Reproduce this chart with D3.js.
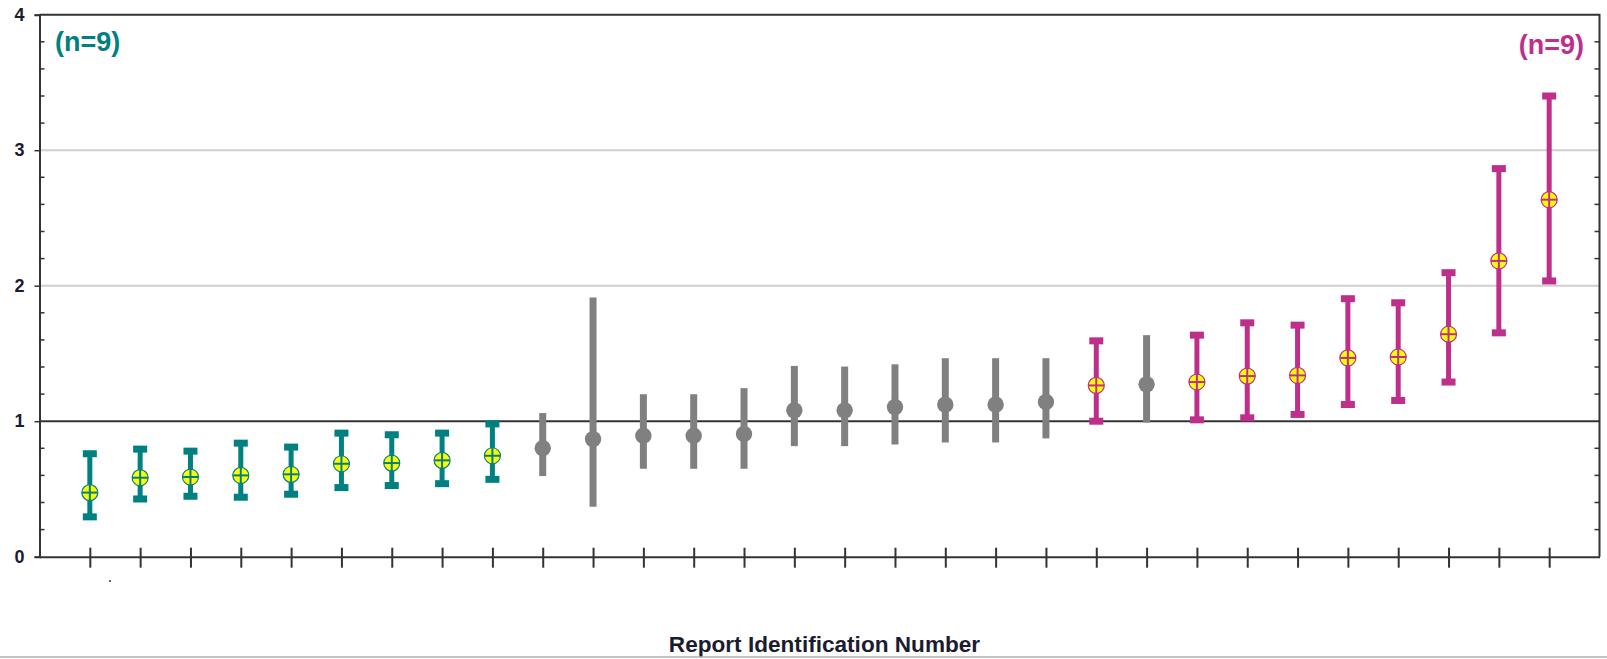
<!DOCTYPE html>
<html>
<head>
<meta charset="utf-8">
<script src="https://cdn.jsdelivr.net/npm/d3@7"></script>
<style>
  html, body { margin: 0; padding: 0; background: #fff; }
  svg { display: block; }
  text { font-family: "Liberation Sans", Arial, sans-serif; font-weight: bold; }
</style>
</head>
<body>
<svg id="chart" width="1607" height="659"></svg>
<script>
// Report identifiers (one per error bar, ordered by estimate)
const reports = d3.range(1, 31).map(String);

// Group of each report: "low" below, "mid" spanning 1, "high" above
const groups = [
  "low","low","low","low","low","low","low","low","low",
  "mid","mid","mid","mid","mid","mid","mid","mid","mid","mid","mid",
  "high","mid","high","high","high","high","high","high","high","high"
];

// Point estimates
const estimates = [
  0.473, 0.583, 0.588, 0.600, 0.608, 0.686, 0.691, 0.711, 0.745,
  0.800, 0.868, 0.893, 0.893, 0.905, 1.080, 1.080, 1.104, 1.122, 1.122, 1.142,
  1.264, 1.272, 1.289, 1.333, 1.338, 1.467, 1.474, 1.642, 2.183, 2.635
];

// Lower confidence limits
const lowerCI = [
  0.294, 0.426, 0.446, 0.439, 0.461, 0.510, 0.525, 0.539, 0.571,
  0.595, 0.368, 0.649, 0.649, 0.649, 0.816, 0.816, 0.828, 0.843, 0.843, 0.873,
  1.000, 0.990, 1.010, 1.025, 1.050, 1.123, 1.153, 1.289, 1.652, 2.035
];

// Upper confidence limits
const upperCI = [
  0.760, 0.794, 0.779, 0.838, 0.809, 0.912, 0.900, 0.912, 0.980,
  1.060, 1.913, 1.199, 1.199, 1.244, 1.408, 1.403, 1.420, 1.465, 1.465, 1.465,
  1.593, 1.635, 1.635, 1.726, 1.709, 1.904, 1.874, 2.096, 2.864, 3.400
];

const yTicks = [0, 1, 2, 3, 4];
const gridValues = [2, 3];
const refValue = 1;
const countLabels = [
  { group: "low", text: "(n=9)" },
  { group: "high", text: "(n=9)" }
];
const xTitle = "Report Identification Number";

const colors = { low: "#008080", mid: "#808080", high: "#BE2F8C" };

const data = reports.map((r, i) => ({
  id: r, group: groups[i], est: estimates[i], lo: lowerCI[i], hi: upperCI[i]
}));

const svg = d3.select("#chart");
const plotL = 39.5, plotR = 1599.5, plotT = 14.7, plotB = 556.7;

const x = d3.scalePoint().domain(reports).range([plotL, plotR]).padding(1);
const y = d3.scaleLinear().domain([0, 4]).range([plotB, plotT]);

// Horizontal gridlines
svg.append("g").selectAll("line").data(gridValues).join("line")
  .attr("x1", plotL).attr("x2", plotR)
  .attr("y1", d => y(d)).attr("y2", d => y(d))
  .attr("stroke", "#cfcfcf").attr("stroke-width", 2);

// Reference line at 1
svg.append("line")
  .attr("x1", plotL).attr("x2", plotR)
  .attr("y1", y(refValue)).attr("y2", y(refValue))
  .attr("stroke", "#333").attr("stroke-width", 2);

// Frame: top and right edges
svg.append("path")
  .attr("d", `M${plotL},${plotT}H${plotR}V${plotB}`)
  .attr("fill", "none").attr("stroke", "#333").attr("stroke-width", 2);

// Left axis with outward major ticks
const yAxis = d3.axisLeft(y).tickValues(yTicks).tickSize(5).tickPadding(10).tickFormat(d3.format("d"));
const gy = svg.append("g").attr("transform", `translate(${plotL},0)`).call(yAxis);
gy.select(".domain").attr("stroke", "#333").attr("stroke-width", 2);
gy.selectAll(".tick line").attr("stroke", "#333").attr("stroke-width", 1.5);
gy.selectAll(".tick text").attr("font-size", 18).attr("fill", "#1c1c30")
  .attr("font-family", "Liberation Sans, Arial, sans-serif").attr("font-weight", "bold");

// Minor ticks every 0.2, inward on both sides
const minor = d3.range(0, 4.0001, 0.2).filter(v => Math.abs(v - Math.round(v)) > 1e-6);
svg.append("g").selectAll("line").data(minor).join("line")
  .attr("x1", plotL).attr("x2", plotL + 5)
  .attr("y1", d => y(d)).attr("y2", d => y(d))
  .attr("stroke", "#333").attr("stroke-width", 1.5);
svg.append("g").selectAll("line").data(minor).join("line")
  .attr("x1", plotR - 5).attr("x2", plotR)
  .attr("y1", d => y(d)).attr("y2", d => y(d))
  .attr("stroke", "#333").attr("stroke-width", 1.5);

// Bottom axis with ticks crossing the line at each report
const xAxis = d3.axisBottom(x).tickSizeInner(11).tickSizeOuter(0).tickFormat("");
const gx = svg.append("g").attr("transform", `translate(0,${plotB})`).call(xAxis);
gx.select(".domain").attr("stroke", "#333").attr("stroke-width", 2);
gx.selectAll(".tick line").attr("y1", -9).attr("stroke", "#333").attr("stroke-width", 2);

// Error bars
const bars = svg.append("g").selectAll("g").data(data).join("g")
  .attr("transform", d => `translate(${x(d.id)},0)`);

bars.append("line")
  .attr("y1", d => y(d.lo)).attr("y2", d => y(d.hi))
  .attr("stroke", d => colors[d.group])
  .attr("stroke-width", d => d.group === "mid" ? 7 : 5);

const capped = bars.filter(d => d.group !== "mid");
["lo", "hi"].forEach(k => {
  capped.append("rect")
    .attr("x", -7).attr("width", 14)
    .attr("y", d => y(d[k]) - 3.5).attr("height", 7)
    .attr("fill", d => colors[d.group]);
});

// Markers: solid dots for the middle group, crossed yellow circles otherwise
bars.filter(d => d.group === "mid").append("circle")
  .attr("cy", d => y(d.est)).attr("r", 8.2)
  .attr("fill", colors.mid);

const crossed = bars.filter(d => d.group !== "mid");
crossed.append("circle")
  .attr("cy", d => y(d.est)).attr("r", 8)
  .attr("fill", "#ffff00")
  .attr("stroke", d => colors[d.group]).attr("stroke-width", 1.2);
crossed.append("line")
  .attr("x1", -8).attr("x2", 8)
  .attr("y1", d => y(d.est)).attr("y2", d => y(d.est))
  .attr("stroke", d => colors[d.group]).attr("stroke-width", 2);
crossed.append("line")
  .attr("y1", d => y(d.est) - 8).attr("y2", d => y(d.est) + 8)
  .attr("stroke", d => colors[d.group]).attr("stroke-width", 2);

// Group counts
svg.append("text").text(countLabels[0].text)
  .attr("x", 55).attr("y", 51)
  .attr("font-size", 27).attr("fill", colors[countLabels[0].group]);
svg.append("text").text(countLabels[1].text)
  .attr("x", 1584).attr("y", 54).attr("text-anchor", "end")
  .attr("font-size", 27).attr("fill", colors[countLabels[1].group]);

// Stray point below the axis
svg.append("circle").attr("cx", 110).attr("cy", 581).attr("r", 1.1).attr("fill", "#444");

// Axis title
svg.append("text").text(xTitle)
  .attr("x", 824.5).attr("y", 651.5).attr("text-anchor", "middle")
  .attr("font-size", 22.6).attr("fill", "#1c1c30");

// Baseline rule along the bottom edge
svg.append("line")
  .attr("x1", 0).attr("x2", 1607).attr("y1", 657).attr("y2", 657)
  .attr("stroke", "#b0b0b0").attr("stroke-width", 1.5);
</script>
</body>
</html>
